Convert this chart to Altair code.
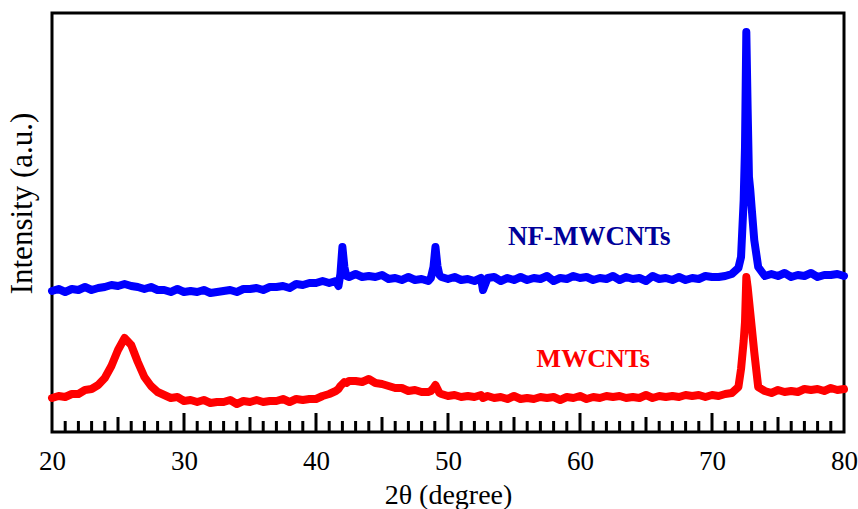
import altair as alt
import pandas as pd

# 2-theta grid (degrees)
two_theta = [
    20.0, 20.5, 21.0, 21.5, 22.0, 22.5, 23.0, 23.5, 24.0, 24.5, 25.0, 25.5, 26.0, 26.5, 27.0, 27.5,
    28.0, 28.5, 29.0, 29.5, 30.0, 30.5, 31.0, 31.5, 32.0, 32.5, 33.0, 33.5, 34.0, 34.5, 35.0, 35.5,
    36.0, 36.5, 37.0, 37.5, 38.0, 38.5, 39.0, 39.5, 40.0, 40.5, 41.0, 41.5,
    41.7, 41.85, 42.0, 42.15, 42.3, 42.5,
    43.0, 43.5, 44.0, 44.5, 45.0, 45.5, 46.0, 46.5, 47.0, 47.5, 48.0, 48.5,
    48.7, 48.9, 49.05, 49.2, 49.35, 49.5,
    50.0, 50.5, 51.0, 51.5, 52.0, 52.5, 52.65,
    53.0, 53.5, 54.0, 54.5, 55.0, 55.5, 56.0, 56.5, 57.0, 57.5, 58.0, 58.5, 59.0, 59.5, 60.0, 60.5,
    61.0, 61.5, 62.0, 62.5, 63.0, 63.5, 64.0, 64.5, 65.0, 65.5, 66.0, 66.5, 67.0, 67.5, 68.0, 68.5,
    69.0, 69.5, 70.0, 70.5, 71.0, 71.5, 72.0,
    72.2, 72.4, 72.5, 72.6, 72.7, 72.8, 72.9, 73.0, 73.2,
    73.5, 74.0, 74.5, 75.0, 75.5, 76.0, 76.5, 77.0, 77.5, 78.0, 78.5, 79.0, 79.5, 80.0,
]

# NF-MWCNTs intensity (a.u.)
nf_mwcnts = [
    141, 143, 140, 143, 142, 145, 142, 144, 145, 147, 146, 148, 146, 145, 143, 145,
    142, 142, 140, 143, 140, 141, 140, 142, 139, 140, 141, 142, 140, 143, 143, 144,
    142, 145, 145, 146, 144, 148, 147, 149, 149, 151, 149, 151,
    146, 158, 185, 165, 156, 155,
    158, 155, 156, 155, 157, 153, 154, 152, 155, 152, 153, 151,
    154, 165, 185, 166, 157, 155,
    153, 155, 152, 153, 151, 154, 142,
    154, 155, 151, 154, 152, 155, 152, 154, 153, 156, 151, 154, 153, 156, 154, 155,
    152, 154, 153, 156, 152, 155, 153, 154, 151, 156, 153, 154, 152, 155, 152, 154,
    153, 156, 155, 155, 156, 158, 164,
    175, 232, 285, 400, 323, 255, 242, 225, 192,
    165, 156, 158, 156, 159, 155, 157, 156, 159, 155, 157, 157, 158, 156,
]

# MWCNTs intensity (a.u.)
mwcnts = [
    34, 36, 35, 38, 38, 42, 43, 47, 54, 66, 82, 94, 87, 70, 55, 46,
    40, 37, 34, 35, 31, 32, 30, 32, 29, 30, 30, 32, 28, 31, 30, 32,
    30, 31, 31, 33, 30, 33, 32, 33, 33, 36, 38, 41,
    43, 46, 48, 50, 49, 51,
    51, 50, 53, 49, 48, 46, 44, 44, 41, 42, 40, 40,
    41, 44, 47, 43, 39, 38,
    36, 37, 35, 36, 35, 37, 34,
    36, 34, 35, 33, 36, 33, 34, 33, 35, 34, 35, 32, 35, 34, 36, 33,
    35, 34, 36, 35, 36, 34, 35, 34, 37, 34, 36, 35, 36, 35, 37, 36,
    37, 35, 37, 36, 38, 39, 45,
    63, 91, 110, 155, 145, 132, 119, 106, 80,
    45, 41, 39, 42, 40, 41, 40, 43, 42, 43, 41, 44, 42, 43,
]

series_names = ["NF-MWCNTs", "MWCNTs"]
series_colors = ["#0000ff", "#ff0000"]

x_tick_labels = [20, 30, 40, 50, 60, 70, 80]
minor_ticks = [21, 22, 23, 24, 26, 27, 28, 29, 31, 32, 33, 34, 36, 37, 38, 39, 41, 42, 43, 44,
               46, 47, 48, 49, 51, 52, 53, 54, 56, 57, 58, 59, 61, 62, 63, 64, 66, 67, 68, 69,
               71, 72, 73, 74, 76, 77, 78, 79]
mid_ticks = [25, 35, 45, 55, 65, 75]
major_ticks = [30, 40, 50, 60, 70]

label_text = ["NF-MWCNTs", "MWCNTs"]
label_x = [60.7, 61.0]
label_y = [187, 65]
label_color = ["#000099", "#ff0000"]
label_size = [27, 26]

assert len(two_theta) == len(nf_mwcnts) == len(mwcnts)

df = pd.DataFrame({
    "two_theta": two_theta + two_theta,
    "intensity": nf_mwcnts + mwcnts,
    "sample": [series_names[0]] * len(two_theta) + [series_names[1]] * len(two_theta),
})

W, H = 792, 419
FONT = "Liberation Serif"

xscale = alt.Scale(domain=[20, 80], nice=False, zero=False)
yscale = alt.Scale(domain=[0, 419], nice=False, zero=False)

lines = alt.Chart(df).mark_line(strokeWidth=8, strokeJoin="round", strokeCap="round").encode(
    x=alt.X("two_theta:Q", scale=xscale,
            axis=alt.Axis(values=x_tick_labels, title="2θ (degree)", grid=False, domain=False,
                          ticks=False, tickSize=0, labelPadding=29, labelBaseline="middle",
                          labelFlush=False, labelFont=FONT, labelFontSize=27, labelColor="black",
                          titleFont=FONT, titleFontSize=28, titleFontWeight="normal",
                          titleColor="black", titleBaseline="middle", titleY=63)),
    y=alt.Y("intensity:Q", scale=yscale,
            axis=alt.Axis(title="Intensity (a.u.)", labels=False, ticks=False, domain=False,
                          grid=False, titleFont=FONT, titleFontSize=31, titleFontWeight="normal",
                          titleColor="black", titleBaseline="middle", titleX=-30, titleY=190,
                          titleAngle=270)),
    color=alt.Color("sample:N", scale=alt.Scale(domain=series_names, range=series_colors), legend=None),
)


def tick_layer(values, length):
    tdf = pd.DataFrame({"two_theta": values})
    return alt.Chart(tdf).mark_rule(color="black", strokeWidth=3).encode(
        x=alt.X("two_theta:Q", scale=xscale),
        y=alt.value(H),
        y2=alt.value(H - length),
    )


ticks = [tick_layer(minor_ticks, 11), tick_layer(mid_ticks, 15), tick_layer(major_ticks, 19)]

texts = []
for t, lx, ly, c, s in zip(label_text, label_x, label_y, label_color, label_size):
    tdf = pd.DataFrame({"two_theta": [lx], "intensity": [ly], "label": [t]})
    texts.append(
        alt.Chart(tdf).mark_text(font=FONT, fontSize=s, fontWeight="bold", color=c,
                                 align="center", baseline="alphabetic").encode(
            x=alt.X("two_theta:Q", scale=xscale),
            y=alt.Y("intensity:Q", scale=yscale),
            text="label:N",
        )
    )

chart = alt.layer(lines, *ticks, *texts).properties(
    width=W, height=H,
    padding={"left": 52, "top": 13, "right": 14, "bottom": 77},
    autosize=alt.AutoSizeParams(type="none"),
).configure_view(stroke="black", strokeWidth=3).configure_axis(
    labelFont=FONT, titleFont=FONT, labelFlush=False, labelColor="black", titleColor="black",
    titleFontWeight="normal",
)

chart.save("out.html", embed_options={"renderer": "svg", "actions": False})
